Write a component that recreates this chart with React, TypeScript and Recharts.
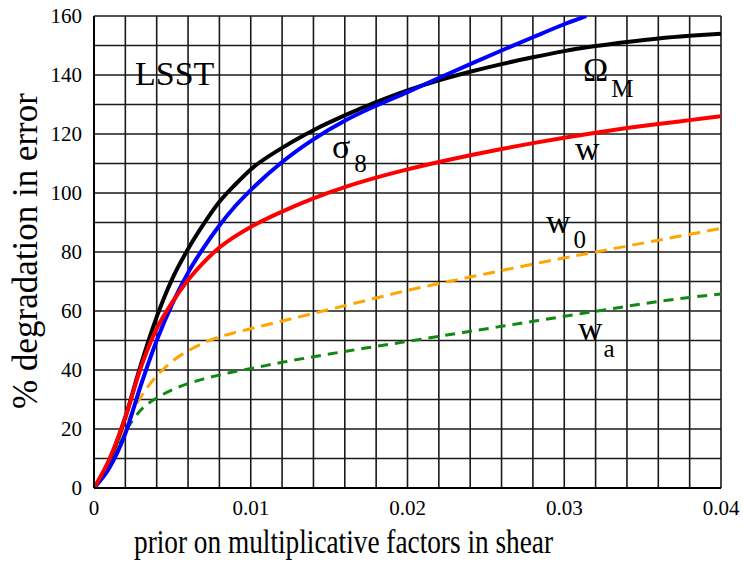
import React from 'react'
import { LineChart, Line, XAxis, YAxis, CartesianGrid, Customized } from 'recharts'

// prior on multiplicative shear factors
const priorX = [0, 0.001, 0.002, 0.003, 0.004, 0.005, 0.006, 0.007, 0.008, 0.009, 0.01, 0.012, 0.014, 0.016, 0.018, 0.02, 0.022, 0.024, 0.026, 0.028, 0.03, 0.032, 0.034, 0.036, 0.038, 0.04]
const omegaM = [0, 9.5, 24, 42, 58, 71, 81, 89.5, 97, 102.8, 108, 115.3, 121.3, 126.3, 130.8, 134.8, 138.2, 141.1, 143.7, 146, 148.1, 149.8, 151.2, 152.4, 153.3, 154]
const wConst = [0, 10, 24, 41, 54, 63, 70.5, 76.5, 81.5, 85.3, 88.5, 93.7, 98.2, 102, 105.2, 108, 110.5, 112.8, 114.9, 116.9, 118.7, 120.4, 122, 123.4, 124.7, 126]
const w0 = [0, 8, 21, 31, 38, 43, 46.5, 49.2, 51.2, 52.7, 54, 56.6, 59.2, 61.8, 64.4, 67, 69.3, 71.5, 73.7, 75.9, 78, 80, 82, 84, 86, 88]
const wa = [0, 7, 19, 26.5, 30.5, 33.3, 35.4, 37, 38.3, 39.5, 40.5, 42.6, 44.5, 46.3, 48, 49.7, 51.4, 53.1, 54.8, 56.5, 58.2, 59.9, 61.6, 63.2, 64.6, 65.8]

// sigma_8 leaves the top of the frame, so it has its own x list
const sigmaX = [0, 0.001, 0.002, 0.003, 0.004, 0.005, 0.006, 0.007, 0.008, 0.009, 0.01, 0.012, 0.014, 0.016, 0.018, 0.02, 0.022, 0.024, 0.026, 0.028, 0.03, 0.0314]
const sigma8 = [0, 7, 18.5, 35, 50, 62.5, 73, 81.5, 89, 95.5, 101, 110.5, 118.2, 124.5, 129.6, 134.2, 139, 143.7, 148.3, 152.8, 157.2, 160]

const xTicks = [0, 0.002, 0.004, 0.006, 0.008, 0.01, 0.012, 0.014, 0.016, 0.018, 0.02, 0.022, 0.024, 0.026, 0.028, 0.03, 0.032, 0.034, 0.036, 0.038, 0.04]
const xTickLabels = ['0', '0.01', '0.02', '0.03', '0.04']
const yTicks = [0, 10, 20, 30, 40, 50, 60, 70, 80, 90, 100, 110, 120, 130, 140, 150, 160]
const yTickLabels = ['0', '20', '40', '60', '80', '100', '120', '140', '160']

const FONT = '"Liberation Serif", "DejaVu Serif", serif'

const mainData = priorX.map((x, i) => ({ x, omegaM: omegaM[i], w: wConst[i], w0: w0[i], wa: wa[i] }))
const sigmaData = sigmaX.map((x, i) => ({ x, sigma8: sigma8[i] }))

function Annotations() {
  return (
    <g fontFamily={FONT} fill="#000">
      <text x={135} y={85} fontSize={34}>LSST</text>
      <text x={583} y={81} fontSize={34}>
        Ω<tspan dx={3} dy={16} fontSize={25}>M</tspan>
      </text>
      <text x={332} y={158} fontSize={34}>
        σ<tspan dx={4} dy={14} fontSize={25}>8</tspan>
      </text>
      <text x={575} y={160} fontSize={34}>w</text>
      <text x={546} y={233} fontSize={34}>
        w<tspan dx={3} dy={15} fontSize={25}>0</tspan>
      </text>
      <text x={578} y={340} fontSize={34}>
        w<tspan dx={1} dy={17} fontSize={25}>a</tspan>
      </text>
      <text
        x={134}
        y={553}
        fontSize={33}
        textLength={419}
        lengthAdjust="spacingAndGlyphs"
        style={{ fontFamily: FONT }}
      >
        prior on multiplicative factors in shear
      </text>
      <text
        x={0}
        y={0}
        fontSize={35}
        textAnchor="middle"
        transform="translate(37 251) rotate(-90)"
        style={{ fontFamily: FONT }}
      >
        % degradation in error
      </text>
    </g>
  )
}

export default function App() {
  return (
    <div style={{ position: 'absolute', left: 0, top: 0, background: '#fff' }}>
      <LineChart width={743} height={565} margin={{ top: 16, right: 22, left: 0, bottom: 0 }}>
        <CartesianGrid stroke="#1a1a1a" strokeWidth={1.6} />
        <XAxis
          type="number"
          dataKey="x"
          domain={[0, 0.04]}
          ticks={xTicks}
          height={77}
          allowDataOverflow
          tickLine={false}
          tickSize={0}
          tickMargin={12}
          axisLine={{ stroke: '#000', strokeWidth: 2 }}
          tick={{ fill: '#000', fontSize: 21, fontFamily: FONT, style: { fontFamily: FONT } }}
          tickFormatter={(v, i) => (i % 5 === 0 ? xTickLabels[i / 5] : '')}
          interval={0}
        />
        <YAxis
          type="number"
          domain={[0, 160]}
          ticks={yTicks}
          width={94}
          allowDataOverflow
          tickLine={false}
          tickSize={0}
          tickMargin={12}
          axisLine={{ stroke: '#000', strokeWidth: 2 }}
          tick={{ fill: '#000', fontSize: 21, fontFamily: FONT, style: { fontFamily: FONT } }}
          tickFormatter={(v, i) => (i % 2 === 0 ? yTickLabels[i / 2] : '')}
          interval={0}
        />
        <Line data={mainData} dataKey="wa" type="monotone" stroke="#118811" strokeWidth={3} strokeDasharray="10 7" dot={false} isAnimationActive={false} />
        <Line data={mainData} dataKey="w0" type="monotone" stroke="#ffa500" strokeWidth={3} strokeDasharray="12 7" dot={false} isAnimationActive={false} />
        <Line data={mainData} dataKey="omegaM" type="monotone" stroke="#000" strokeWidth={4} dot={false} isAnimationActive={false} />
        <Line data={sigmaData} dataKey="sigma8" type="monotone" stroke="#0000ff" strokeWidth={4} dot={false} isAnimationActive={false} />
        <Line data={mainData} dataKey="w" type="monotone" stroke="#ff0000" strokeWidth={4} dot={false} isAnimationActive={false} />
        <Customized component={Annotations} />
      </LineChart>
    </div>
  )
}
